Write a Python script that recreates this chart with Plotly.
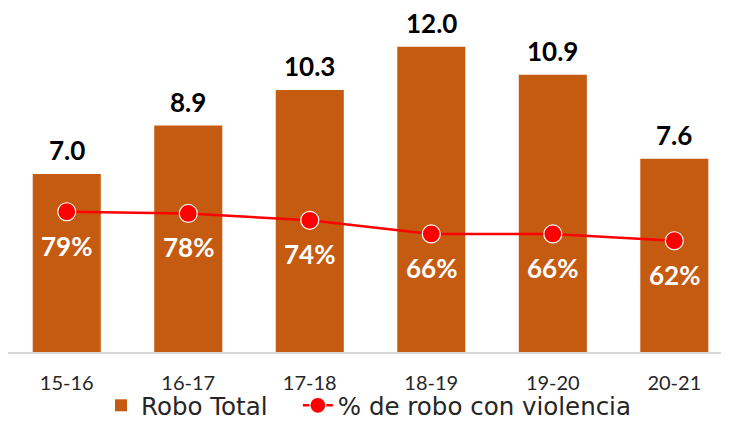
import plotly.graph_objects as go

categories = ["15-16", "16-17", "17-18", "18-19", "19-20", "20-21"]
robo_total = [7.0, 8.9, 10.3, 12.0, 10.9, 7.6]
pct_violencia = [0.79, 0.78, 0.74, 0.66, 0.66, 0.62]
bar_labels = ["7.0", "8.9", "10.3", "12.0", "10.9", "7.6"]
pct_labels = ["79%", "78%", "74%", "66%", "66%", "62%"]

BAR_COLOR = "#C55A11"
LINE_COLOR = "#FF0000"

fig = go.Figure()
fig.add_trace(go.Bar(
    x=categories, y=robo_total, name="Robo Total",
    marker=dict(color=BAR_COLOR, line=dict(width=0)),
    width=0.56, yaxis="y", legend="legend",
))
fig.add_trace(go.Scatter(
    x=categories, y=pct_violencia, name="% de robo con violencia",
    mode="lines+markers", yaxis="y2", legend="legend2",
    line=dict(color=LINE_COLOR, width=2.5),
    marker=dict(color=LINE_COLOR, size=18, line=dict(color="white", width=1.2)),
))

annotations = []
for c, v, t in zip(categories, robo_total, bar_labels):
    annotations.append(dict(
        x=c, y=v, xref="x", yref="y", text=t, showarrow=False,
        yanchor="bottom", yshift=6,
        font=dict(family="Lato", size=26, color="#000000", weight="bold"),
    ))
for c, p, t in zip(categories, pct_violencia, pct_labels):
    annotations.append(dict(
        x=c, y=p, xref="x", yref="y2", text=t, showarrow=False,
        yanchor="middle", yshift=-34,
        font=dict(family="Lato", size=26, color="#FFFFFF", weight="bold"),
    ))

legend_common = dict(
    orientation="h", yanchor="top", y=-0.093, xanchor="left",
    font=dict(family="DejaVu Sans", size=24.5, color="#262626"),
    itemwidth=30, bgcolor="rgba(0,0,0,0)",
)

fig.update_layout(
    width=721, height=414,
    margin=dict(l=0, r=0, t=12, b=70, autoexpand=False),
    plot_bgcolor="white", paper_bgcolor="white",
    showlegend=True,
    legend=dict(legend_common, x=0.129),
    legend2=dict(legend_common, x=0.402),
    xaxis=dict(
        range=[-0.4835, 5.45], type="category", automargin=False,
        showline=True, linecolor="#D9D9D9", linewidth=2,
        ticks="", showgrid=False, zeroline=False,
        tickfont=dict(family="Lato", size=20, color="#262626"),
        ticklabelstandoff=12,
    ),
    yaxis=dict(range=[0, 13.05], visible=False, showgrid=False, zeroline=False),
    yaxis2=dict(range=[-0.032, 1.914], overlaying="y", visible=False,
                showgrid=False, zeroline=False),
    annotations=annotations,
    bargap=0.44,
)

fig.write_html("out.html")
